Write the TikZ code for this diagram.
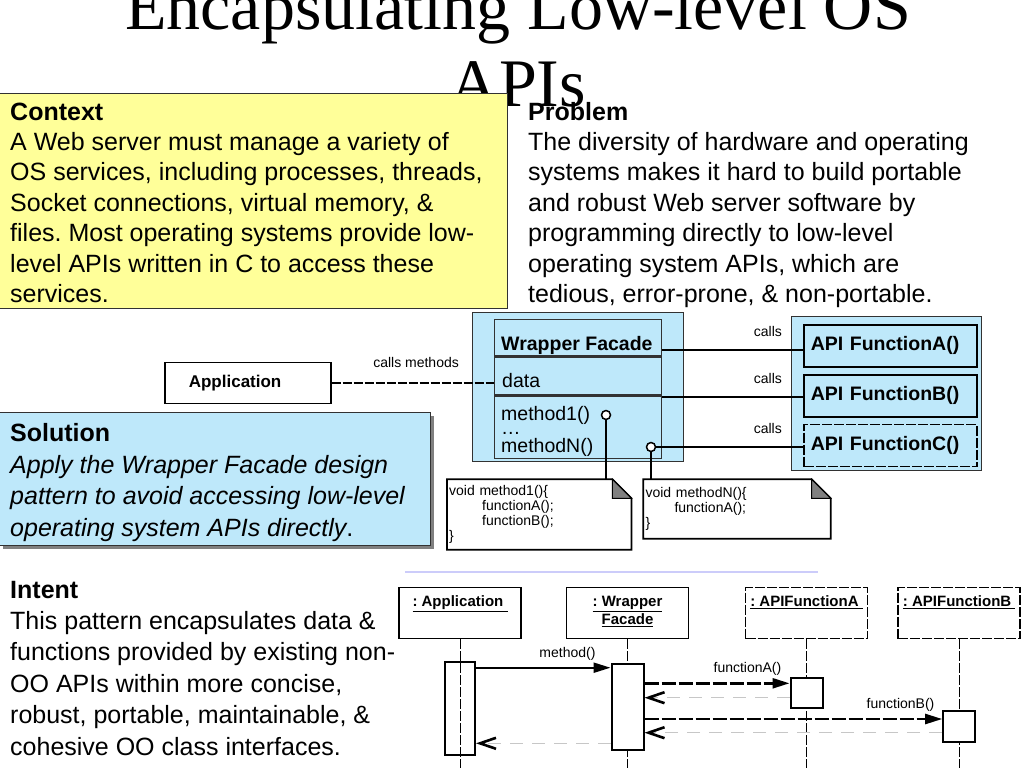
\documentclass[tikz,border=0pt]{standalone}
\usepackage{fontspec}
\setmainfont{Liberation Sans}
\newfontfamily\titlefont{Liberation Serif}
\usetikzlibrary{arrows.meta,positioning,shadows}
\frenchspacing

\definecolor{wfblue}{RGB}{190,232,250}
\definecolor{ctxyellow}{RGB}{255,255,153}
\definecolor{sepline}{RGB}{204,204,250}
\definecolor{boxedge}{RGB}{50,50,50}

\begin{document}
\begin{tikzpicture}[x=1pt, y=-1pt,
    para/.style={anchor=north west, inner sep=0pt, align=left},
    panel/.style={draw=boxedge, line width=0.8pt, anchor=north west, inner sep=0pt},
    compart/.style={draw=boxedge, line width=1.4pt, fill=wfblue, minimum width=167pt, anchor=north west, inner sep=0pt},
    apibox/.style={draw, line width=1.8pt, fill=wfblue, minimum height=42pt, text width=159pt, inner xsep=7pt, inner ysep=0pt, align=left, font=\bfseries\fontsize{19.5}{22}\selectfont},
    small/.style={font=\fontsize{14}{15}\selectfont, inner sep=0pt},
    cls/.style={anchor=base west, inner sep=0pt, font=\fontsize{19.5}{22}\selectfont},
    note/.style={anchor=north west, inner xsep=2pt, inner ysep=0pt, text width=180pt, align=left, font=\fontsize{14}{15}\selectfont},
    head/.style={draw, line width=1.6pt, minimum width=122pt, minimum height=51pt, anchor=north, inner sep=0pt},
    headtxt/.style={anchor=north, align=center, inner sep=0pt, font=\bfseries\fontsize{15}{18}\selectfont},
    act/.style={draw, line width=2pt, minimum width=32pt, anchor=north, inner sep=0pt},
    broken/.style={dash pattern=on 10pt off 2pt},
    lifeline/.style={line width=0.9pt, dash pattern=on 10pt off 2pt},
    msg/.style={line width=2.2pt, -{Triangle[length=17pt,width=10pt]}},
    ret/.style={draw=black!22, line width=1.3pt, dash pattern=on 13pt off 9pt, -{Straight Barb[length=16pt,width=11pt,line width=2.6pt,color=black]}},
    link/.style={line width=1.8pt}
  ]
  \useasboundingbox (0,0) rectangle (1024,768);

  \node[anchor=north, align=center, inner sep=0pt, font=\titlefont\fontsize{68}{77}\selectfont] (title) at (518,-24.5) {\strut Encapsulating Low-level OS\\APIs};

  % context and problem
  \node[panel, fill=ctxyellow, minimum width=508pt, minimum height=215pt] (context) at (-1,93) {};
  \node[para, font=\fontsize{25}{30.4}\selectfont] (contexttxt) at (10,98.7) {\strut\textbf{Context}\\A Web server must manage a variety of\\OS services, including processes, threads,\\Socket connections, virtual memory, \&\\files. Most operating systems provide low-\\level APIs written in C to access these\\services.};
  \node[para, font=\fontsize{25}{30.4}\selectfont] (problemtxt) at (528,98.7) {\strut\textbf{Problem}\\The diversity of hardware and operating\\systems makes it hard to build portable\\and robust Web server software by\\programming directly to low-level\\operating system APIs, which are\\tedious, error-prone, \& non-portable.};

  % solution and intent
  \node[panel, fill=wfblue, minimum width=431pt, minimum height=133pt, drop shadow={shadow xshift=4pt, shadow yshift=-4pt, fill=black!50, opacity=1}] (solution) at (-1,412) {};
  \node[para, font=\fontsize{25}{31.5}\selectfont] (solutiontxt) at (10,419.6) {\strut\textbf{Solution}\\\textit{Apply the Wrapper Facade design}\\\textit{pattern to avoid accessing low-level}\\\textit{operating system APIs directly}.};
  \node[para, font=\fontsize{25}{31.4}\selectfont] (intenttxt) at (10,576) {\strut\textbf{Intent}\\This pattern encapsulates data \&\\functions provided by existing non-\\OO APIs within more concise,\\robust, portable, maintainable, \&\\cohesive OO class interfaces.};

  % class diagram
  \node[panel, fill=wfblue, minimum width=211pt, minimum height=149pt] (wfgroup) at (472,312) {};
  \node[compart, minimum height=36pt] (wfname) at (494,319) {};
  \node[compart, minimum height=38pt, below=0pt of wfname] (wfdata) {};
  \node[compart, minimum height=62pt, below=0pt of wfdata] (wfops) {};
  \node[cls, font=\bfseries\fontsize{19.5}{22}\selectfont] (nametxt) at (501,350) {Wrapper Facade};
  \node[cls] (datatxt) at (502,387) {data};
  \node[cls] (m1txt) at (501,420) {method1()};
  \node[cls] (dotstxt) at (501,434) {\ldots};
  \node[cls] (mNtxt) at (501,452) {methodN()};
  \node[circle, draw, fill=white, line width=1.5pt, minimum size=9pt, inner sep=0pt] (m1dot) at (606,415) {};
  \node[circle, draw, fill=white, line width=1.5pt, minimum size=9pt, inner sep=0pt] (mNdot) at (651,447) {};

  \node[panel, fill=wfblue, minimum width=190pt, minimum height=154pt] (apigroup) at (791,316) {};
  \node[apibox, anchor=north west] (apiA) at (803,324) {API FunctionA()};
  \node[apibox, below=6pt of apiA] (apiB) {API FunctionB()};
  \node[apibox, broken, below=6pt of apiB] (apiC) {API FunctionC()};

  \node[draw, line width=1.6pt, anchor=north west, minimum height=41pt, text width=118pt, inner xsep=24pt, inner ysep=0pt, align=left, font=\bfseries\fontsize{17}{20}\selectfont] (app) at (164,361.7) {Application};

  \draw[line width=2.4pt] (wfname.east |- 0,350) -- node[small, above=12pt, pos=0.75]{calls} (apiA.west |- 0,350);
  \draw[link] (wfops.north east |- 0,397) -- node[small, above=12pt, pos=0.75]{calls} (apiB.west |- 0,397);
  \draw[link] (mNdot.east) -- node[small, above=12pt, pos=0.76]{calls} (mNdot.east -| apiC.west);
  \draw[line width=1.6pt, dash pattern=on 9pt off 2pt] (app.east) -- node[small, above=15pt, pos=0.52]{calls methods} (app.east -| wfdata.west);

  % notes
  \node[note, minimum height=70pt] (note1) at (447,479.3) {void method1()\{\\\hspace*{33pt}functionA();\\\hspace*{33pt}functionB();\\\}};
  \node[note, text width=183pt, minimum height=59pt] (note2) at (643.3,479.3) {void methodN()\{\\\hspace*{29pt}functionA();\\\}};
  \foreach \n in {note1,note2} {
    \draw[line width=1.8pt] (\n.north west) -- ([xshift=-19pt]\n.north east) -- ([yshift=-19pt]\n.north east) -- (\n.south east) -- (\n.south west) -- cycle;
    \draw[line width=1pt, fill=black!50] ([xshift=-19pt]\n.north east) -- ([xshift=-19pt,yshift=-19pt]\n.north east) -- ([yshift=-19pt]\n.north east) -- cycle;
  }
  \draw[link] (m1dot.south) -- (m1dot.south |- note1.north);
  \draw[link] (mNdot.south) -- (mNdot.south |- note2.north);

  \draw[sepline, line width=2pt] (405,571.5) -- (818,571.5);

  % sequence diagram
  \coordinate (seqbottom) at (0,768);
  \node[head] (apphead) at (460,586.7) {};
  \node[head] (wfhead) at (627.5,586.7) {};
  \node[head, broken] (ahead) at (806.5,586.7) {};
  \node[head, broken] (bhead) at (959.2,586.7) {};
  \node[headtxt, below=7.4pt of apphead.north] (apptxt) {\strut\underline{: Application\ }};
  \node[headtxt, below=7.4pt of wfhead.north] (wftxt) {\strut\underline{: Wrapper}\\\underline{Facade}};
  \node[headtxt, below=7.4pt of ahead.north] (atxt) {\strut\underline{: APIFunctionA\ }};
  \node[headtxt, below=7.4pt of bhead.north] (btxt) {\strut\underline{: APIFunctionB\ }};
  \foreach \h in {apphead,wfhead,ahead,bhead}
    \draw[lifeline] (\h.south) -- (\h.south |- seqbottom);

  \node[act, minimum width=30pt, minimum height=93.6pt] (appact) at (460,660.7) {};
  \node[act, fill=white, minimum height=86.6pt] (wfact) at (627.5,662.7) {};
  \node[act, fill=white, minimum height=30pt] (aact) at (806.5,676.7) {};
  \node[act, fill=white, minimum height=30.7pt] (bact) at (959.2,710) {};

  \draw[msg] (appact.east |- 0,667.7) -- node[small, above=6.7pt, pos=0.68]{method()} (wfact.west |- 0,667.7);
  \draw[msg, line width=2.4pt, dash pattern=on 14pt off 3pt] (wfact.east |- 0,683.3) -- node[small, above=7pt, pos=0.71]{functionA()} (aact.west |- 0,683.3);
  \draw[ret] (aact.west |- 0,697.7) -- (wfact.east |- 0,697.7);
  \draw[msg, line width=2.4pt, dash pattern=on 14pt off 3pt] (wfact.east |- 0,719) -- node[small, above=6pt, pos=0.86]{functionB()} (bact.west |- 0,719);
  \draw[ret] (bact.west |- 0,732.7) -- (wfact.east |- 0,732.7);
  \draw[ret] (wfact.west |- 0,743.3) -- (appact.east |- 0,743.3);
\end{tikzpicture}
\end{document}
